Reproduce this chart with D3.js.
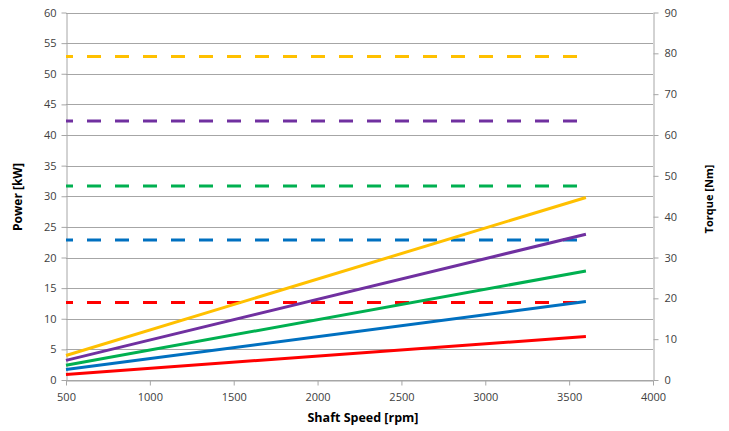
<!DOCTYPE html>
<html>
<head>
<meta charset="utf-8">
<script src="https://cdn.jsdelivr.net/npm/d3@7"></script>
<style>
  html, body { margin: 0; padding: 0; background: #fff; }
  text { font-family: "Open Sans", "Liberation Sans", sans-serif; fill: #404040; }
</style>
</head>
<body>
<svg id="chart" width="729" height="431"></svg>
<script>
// ---- data ----
const speedPoints = [500, 3600];                 // rpm
const seriesColors = ["#FF0000", "#0070C0", "#00B050", "#7030A0", "#FFC000"];
const powerRed    = [0.9, 7.1];                  // kW
const powerBlue   = [1.7, 12.8];
const powerGreen  = [2.4, 17.8];
const powerPurple = [3.2, 23.8];
const powerYellow = [4.0, 29.8];
const torqueRed    = [19.0, 19.0];               // Nm
const torqueBlue   = [34.3, 34.3];
const torqueGreen  = [47.5, 47.5];
const torquePurple = [63.4, 63.4];
const torqueYellow = [79.2, 79.2];
const xTicks = [500, 1000, 1500, 2000, 2500, 3000, 3500, 4000];
const yLeftTicks = [0, 5, 10, 15, 20, 25, 30, 35, 40, 45, 50, 55, 60];
const yRightTicks = [0, 10, 20, 30, 40, 50, 60, 70, 80, 90];
const xTitle = "Shaft Speed [rpm]";
const yLeftTitle = "Power [kW]";
const yRightTitle = "Torque [Nm]";

const powerSeries = [powerRed, powerBlue, powerGreen, powerPurple, powerYellow];
const torqueSeries = [torqueRed, torqueBlue, torqueGreen, torquePurple, torqueYellow];

// ---- layout ----
const svg = d3.select("#chart");
const plotLeft = 66, plotRight = 653, plotTop = 12.5, plotBottom = 380;

const x = d3.scaleLinear().domain([500, 4000]).range([plotLeft, plotRight]);
const yL = d3.scaleLinear().domain([0, 60]).range([plotBottom, plotTop]);
const yR = d3.scaleLinear().domain([0, 90]).range([plotBottom, plotTop]);

svg.append("rect").attr("width", 729).attr("height", 431).attr("fill", "#fff");

// gridlines
svg.append("g").selectAll("line").data(yLeftTicks).join("line")
  .attr("x1", plotLeft).attr("x2", plotRight)
  .attr("y1", d => Math.round(yL(d)) + 0.5).attr("y2", d => Math.round(yL(d)) + 0.5)
  .attr("stroke", "#a6a6a6").attr("stroke-width", 1);

// axes
const axisColor = "#a6a6a6";
function styleAxis(g) {
  g.select(".domain").attr("stroke", axisColor);
  g.selectAll(".tick line").attr("stroke", axisColor);
  g.selectAll(".tick text").attr("fill", "#404040")
    .style("font-family", "'Open Sans', sans-serif").style("font-size", "11px");
}

svg.append("g").attr("transform", `translate(${plotLeft + 0.5},0)`)
  .call(d3.axisLeft(yL).tickValues(yLeftTicks).tickSize(5).tickSizeOuter(0).tickPadding(5))
  .call(styleAxis);

svg.append("g").attr("transform", `translate(${plotRight + 0.5},0)`)
  .call(d3.axisRight(yR).tickValues(yRightTicks).tickSize(5).tickSizeOuter(0).tickPadding(6))
  .call(styleAxis);

svg.append("g").attr("transform", `translate(0,${plotBottom + 0.5})`)
  .call(d3.axisBottom(x).tickValues(xTicks).tickFormat(d3.format("d")).tickSize(5).tickSizeOuter(0).tickPadding(8))
  .call(styleAxis);

// lines
const linePower = d3.line().x((d, i) => x(speedPoints[i])).y(d => yL(d));
const lineTorque = d3.line().x((d, i) => x(speedPoints[i])).y(d => yR(d));

svg.append("g").selectAll("path").data(torqueSeries).join("path")
  .attr("d", d => lineTorque(d))
  .attr("fill", "none")
  .attr("stroke", (d, i) => seriesColors[i])
  .attr("stroke-width", 3)
  .attr("stroke-dasharray", "14,14")
  .attr("stroke-dashoffset", 7);

svg.append("g").selectAll("path").data(powerSeries).join("path")
  .attr("d", d => linePower(d))
  .attr("fill", "none")
  .attr("stroke", (d, i) => seriesColors[i])
  .attr("stroke-width", 3);

// titles
svg.append("text").attr("x", 363).attr("y", 422).attr("text-anchor", "middle")
  .style("font-size", "12.5px").style("font-weight", "bold")
  .style("fill", "#000").text(xTitle);

svg.append("text").attr("transform", "translate(22,197) rotate(-90)").attr("text-anchor", "middle")
  .style("font-size", "12px").style("font-weight", "bold").style("fill", "#000").text(yLeftTitle);

svg.append("text").attr("transform", "translate(713,199) rotate(-90)").attr("text-anchor", "middle")
  .style("font-size", "11px").style("font-weight", "bold").style("fill", "#000").text(yRightTitle);
</script>
</body>
</html>
